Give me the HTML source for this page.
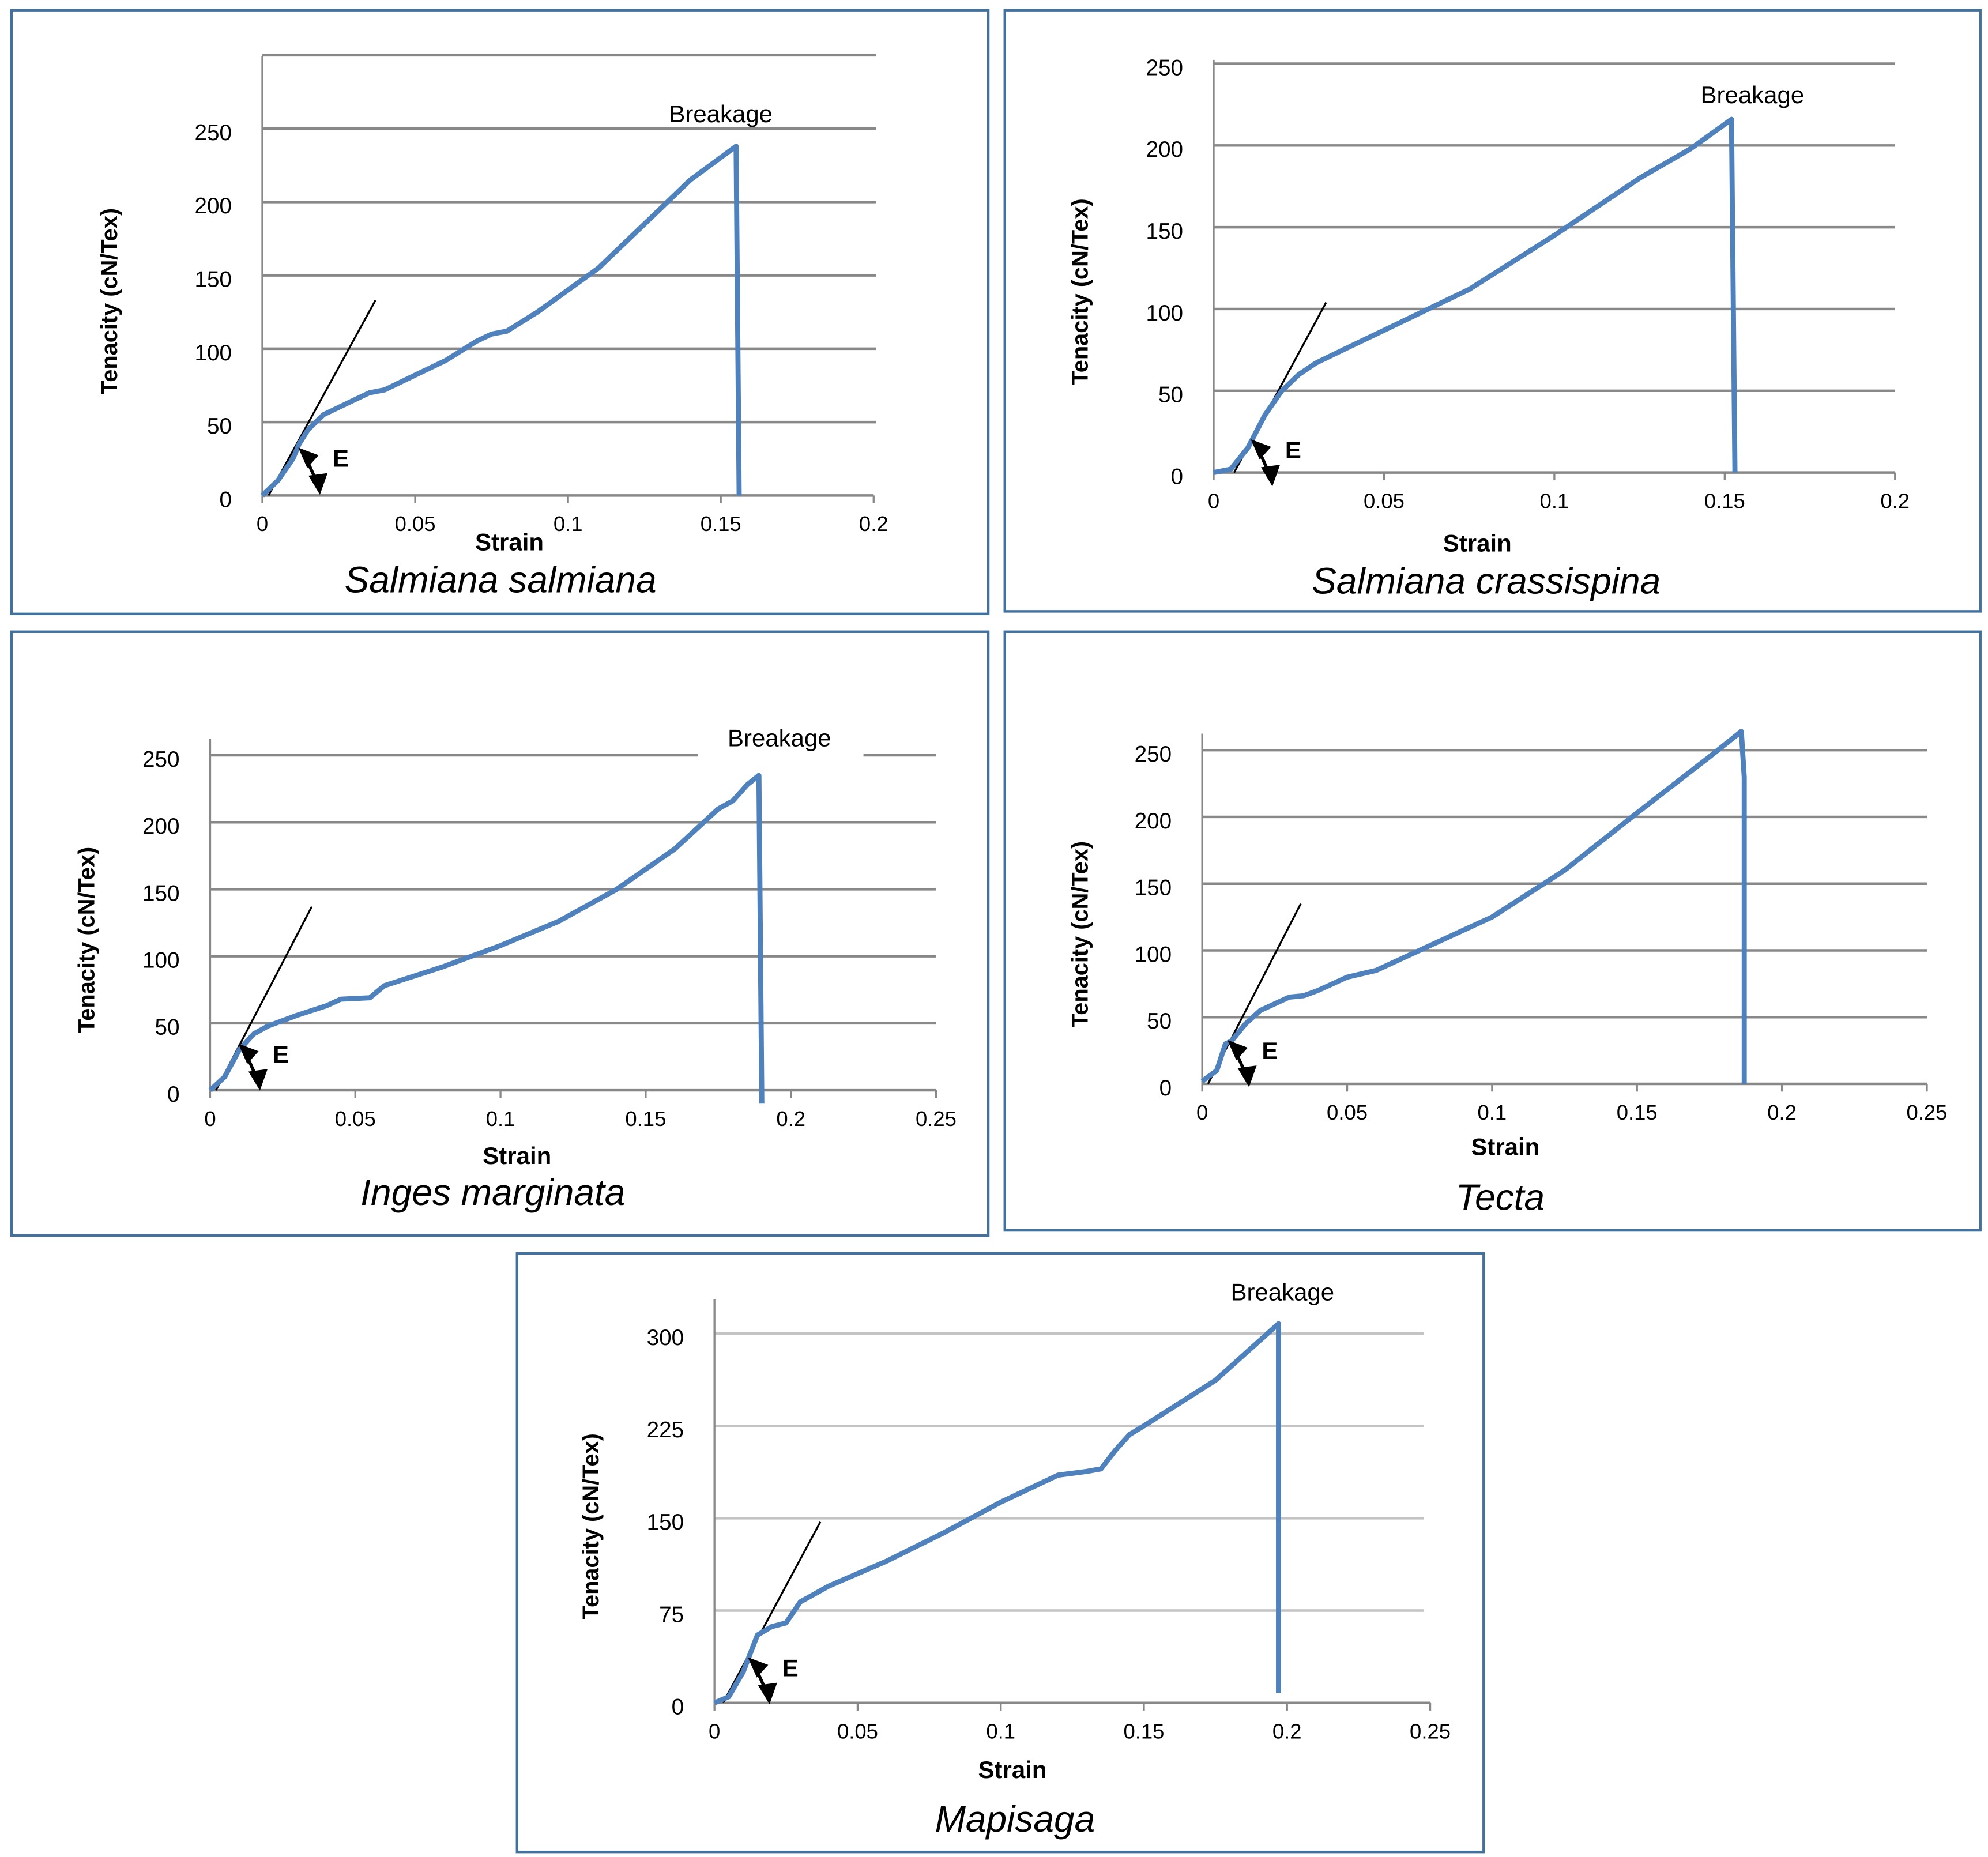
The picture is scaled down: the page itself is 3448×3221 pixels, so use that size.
<!DOCTYPE html>
<html><head><meta charset="utf-8">
<style>
html,body{margin:0;padding:0;background:#fff;}
svg{display:block;}
text{font-family:"Liberation Sans",sans-serif;}
</style></head>
<body>
<svg id="fig" width="3448" height="3221" viewBox="0 0 1561 1458" preserveAspectRatio="none" xmlns="http://www.w3.org/2000/svg"></svg>
<script>
// ---- data ----
const p1Strain=[0,0.005,0.01,0.012,0.015,0.02,0.03,0.035,0.04,0.05,0.06,0.07,0.075,0.08,0.09,0.1,0.11,0.12,0.13,0.14,0.155,0.156];
const p1Ten=[0,10,25,35,45,55,65,70,72,82,92,105,110,112,125,140,155,175,195,215,238,0];
const p2Strain=[0,0.005,0.01,0.015,0.02,0.025,0.03,0.04,0.05,0.075,0.1,0.125,0.14,0.152,0.153];
const p2Ten=[0,2,15,35,50,60,67,77,87,112,145,180,198,216,0];
const p3Strain=[0,0.005,0.01,0.015,0.02,0.03,0.04,0.045,0.055,0.06,0.08,0.1,0.12,0.14,0.16,0.175,0.18,0.185,0.189,0.19];
const p3Ten=[0,10,30,42,48,56,63,68,69,78,92,108,126,150,180,210,216,228,235,-10];
const p4Strain=[0,0.005,0.008,0.01,0.015,0.02,0.03,0.035,0.04,0.05,0.06,0.07,0.1,0.125,0.15,0.175,0.186,0.187,0.187];
const p4Ten=[2,10,30,32,45,55,65,66,70,80,85,95,125,160,203,245,264,230,0];
const p5Strain=[0,0.005,0.01,0.015,0.02,0.025,0.03,0.04,0.06,0.08,0.1,0.12,0.13,0.135,0.14,0.145,0.15,0.175,0.197,0.197];
const p5Ten=[0,5,25,55,62,65,82,95,115,138,163,185,188,190,205,218,225,262,308,8];
const p1Ticks=[0,50,100,150,200,250]; const p1XT=[0,0.05,0.1,0.15,0.2];
const p2Ticks=[0,50,100,150,200,250]; const p2XT=[0,0.05,0.1,0.15,0.2];
const p3Ticks=[0,50,100,150,200,250]; const p3XT=[0,0.05,0.1,0.15,0.2,0.25];
const p4Ticks=[0,50,100,150,200,250]; const p4XT=[0,0.05,0.1,0.15,0.2,0.25];
const p5Ticks=[0,75,150,225,300]; const p5XT=[0,0.05,0.1,0.15,0.2,0.25];

const NS="http://www.w3.org/2000/svg";
const svg=document.getElementById('fig');
function el(tag,attrs,parent,txt){const e=document.createElementNS(NS,tag);for(const k in attrs)e.setAttribute(k,attrs[k]);if(txt!==undefined)e.textContent=txt;(parent||svg).appendChild(e);return e;}

const panels=[
 {id:'salmiana-salmiana',box:[9,8,767,474],x0:206,x1:686,xmax:0.2,y0:389,ymax:250,ytop:101,grid:[50,100,150,200,250,300],gridRight:688,gridTop:44,xs:p1Strain,ys:p1Ten,yt:p1Ticks,xt:p1XT,title:'Salmiana salmiana',titleY:465,titleX:393,strainY:432,strainX:400,brk:[566,96],tan:[[0.002,0],[0.037,133]],eLab:[0.013,30],ylabX:92,gridColor:'#888'},
 {id:'salmiana-crassispina',box:[789,8,766,472],x0:953,x1:1488,xmax:0.2,y0:371,ymax:250,ytop:50,grid:[50,100,150,200,250],gridRight:1488,gridTop:47,xs:p2Strain,ys:p2Ten,yt:p2Ticks,xt:p2XT,title:'Salmiana crassispina',titleY:466,titleX:1167,strainY:433,strainX:1160,brk:[1376,81],tan:[[0.006,0],[0.033,104]],eLab:[0.012,18],ylabX:854,gridColor:'#888'},
 {id:'inges-marginata',box:[9,496,767,474],x0:165,x1:735,xmax:0.25,y0:856,ymax:250,ytop:593,grid:[50,100,150,200,250],gridRight:735,gridTop:580,xs:p3Strain,ys:p3Ten,yt:p3Ticks,xt:p3XT,title:'Inges marginata',titleY:946,titleX:387,strainY:914,strainX:406,brk:[612,586],tan:[[0.002,0],[0.035,137]],eLab:[0.011,32],ylabX:74,gridColor:'#888',gap:[548,678]},
 {id:'tecta',box:[789,496,766,470],x0:944,x1:1513,xmax:0.25,y0:851,ymax:250,ytop:589,grid:[50,100,150,200,250],gridRight:1513,gridTop:576,xs:p4Strain,ys:p4Ten,yt:p4Ticks,xt:p4XT,title:'Tecta',titleY:950,titleX:1178,strainY:907,strainX:1182,brk:null,tan:[[0.002,0],[0.034,135]],eLab:[0.010,30],ylabX:854,gridColor:'#888'},
 {id:'mapisaga',box:[406,984,759,470],x0:561,x1:1123,xmax:0.25,y0:1337,ymax:300,ytop:1047,grid:[75,150,225,300],gridRight:1118,gridTop:1020,xs:p5Strain,ys:p5Ten,yt:p5Ticks,xt:p5XT,title:'Mapisaga',titleY:1438,titleX:797,strainY:1396,strainX:795,brk:[1007,1021],tan:[[0.003,0],[0.037,147]],eLab:[0.013,34],ylabX:470,gridColor:'#c4c4c4'}
];

panels.forEach(p=>{
  const g=el('g',{},svg);
  
  
  const X=v=>p.x0+(v/p.xmax)*(p.x1-p.x0);
  const Y=v=>p.y0-(v/p.ymax)*(p.y0-p.ytop);
  const frame=el('rect',{x:p.box[0],y:p.box[1],width:p.box[2],height:p.box[3],fill:'none',stroke:'#41719c','stroke-width':2},g);
  
  
  p.grid.forEach(v=>{
    if(p.gap && v===250){
      el('line',{x1:p.x0,x2:p.gap[0],y1:Y(v),y2:Y(v),stroke:p.gridColor,'stroke-width':2},g);
      el('line',{x1:p.gap[1],x2:p.gridRight,y1:Y(v),y2:Y(v),stroke:p.gridColor,'stroke-width':2},g);
    } else {
      const gl=el('line',{x1:p.x0,x2:p.gridRight,y1:Y(v),y2:Y(v),stroke:p.gridColor,'stroke-width':2},g);
      
      
    }
  });
  el('line',{x1:p.x0,x2:p.x0,y1:p.gridTop,y2:p.y0,stroke:'#888','stroke-width':1.5},g);
  el('line',{x1:p.x0,x2:p.x1,y1:p.y0,y2:p.y0,stroke:'#888','stroke-width':2},g);
  p.xt.forEach(v=>{
    el('line',{x1:X(v),x2:X(v),y1:p.y0,y2:p.y0+6,stroke:'#888','stroke-width':1.5},g);
    const t=el('text',{x:X(v),y:p.y0+28,'font-size':16.5,'text-anchor':'middle',fill:'#000'},g,String(v));
    
    
  });
  p.yt.forEach(v=>{
    const t=el('text',{x:p.x0-24,y:Y(v)+9,'font-size':17.5,'text-anchor':'end',fill:'#000'},g,String(v));
    
    
  });
  const yl=el('text',{x:p.ylabX,y:(p.y0+p.gridTop)/2+20,'font-size':18,'font-weight':'bold','text-anchor':'middle',transform:`rotate(-90 ${p.ylabX} ${(p.y0+p.gridTop)/2+20})`},g,'Tenacity (cN/Tex)');
  
  
  const xl=el('text',{x:p.strainX,y:p.strainY,'font-size':19,'font-weight':'bold','text-anchor':'middle'},g,'Strain');
  
  
  const tt=el('text',{x:p.titleX,y:p.titleY,'font-size':29,'font-style':'italic','text-anchor':'middle'},g,p.title);
  
  
  if(p.brk){
    const b=el('text',{x:p.brk[0],y:p.brk[1],'font-size':19,'text-anchor':'middle'},g,'Breakage');
    
    
  }
  const tl=el('line',{x1:X(p.tan[0][0]),y1:Y(p.tan[0][1]),x2:X(p.tan[1][0]),y2:Y(p.tan[1][1]),stroke:'#000','stroke-width':1.5},g);
  
  
  const d=p.xs.map((v,i)=>(i?'L':'M')+X(v).toFixed(1)+' '+Y(p.ys[i]).toFixed(1)).join(' ');
  const c=el('path',{d:d,fill:'none',stroke:'#4f81bd','stroke-width':4,'stroke-linejoin':'round'},g);
  
  
  const ex=X(p.eLab[0]), ey=Y(p.eLab[1]);
  const ag=el('g',{},g);
  
  
  el('line',{x1:ex+3,y1:ey+5,x2:ex+12,y2:ey+25,stroke:'#000','stroke-width':2.5},ag);
  el('polygon',{points:`${ex-3},${ey-3} ${ex+13},${ey+3} ${ex+4},${ey+13}`,fill:'#000'},ag);
  el('polygon',{points:`${ex+14},${ey+34} ${ex+5},${ey+19} ${ex+20},${ey+17}`,fill:'#000'},ag);
  const et=el('text',{x:ex+24,y:ey+12,'font-size':19,'font-weight':'bold'},g,'E');
  
  
});
</script>
</body></html>
